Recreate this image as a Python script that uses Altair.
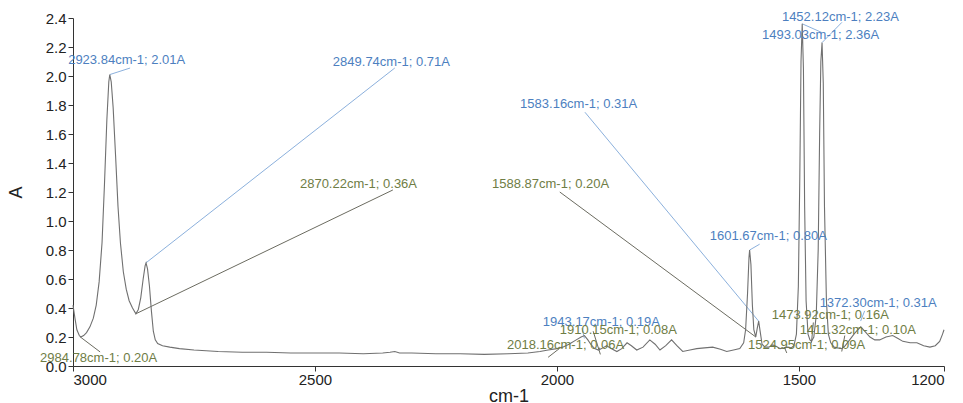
import altair as alt
import pandas as pd

# ---- spectrum (wavenumber cm-1, absorbance A) ----
spec_wn = [3000, 2996, 2992, 2987, 2984, 2978, 2972, 2965, 2958, 2952, 2946, 2940, 2935, 2930,
           2926, 2924, 2921, 2917, 2912, 2907, 2902, 2896, 2890, 2884, 2877, 2870, 2865, 2860,
           2855, 2851, 2849, 2846, 2842, 2838, 2834, 2830, 2825, 2815, 2800, 2780, 2750, 2700,
           2650, 2600, 2550, 2500, 2450, 2400, 2360, 2345, 2335, 2325, 2300, 2250, 2200, 2150,
           2100, 2060, 2035, 2018, 2000, 1988, 1975, 1960, 1950, 1943, 1936, 1930, 1922, 1914,
           1905, 1897, 1888, 1876, 1866, 1855, 1846, 1835, 1822, 1808, 1797, 1787, 1775, 1763,
           1752, 1740, 1725, 1711, 1695, 1678, 1662, 1649, 1635, 1622, 1614, 1610, 1606, 1603,
           1601.7, 1599, 1596, 1593, 1589, 1586, 1583, 1580, 1576, 1570, 1562, 1554, 1546, 1539,
           1531, 1524, 1516, 1510, 1505, 1501, 1498, 1495.5, 1493, 1490.5, 1488, 1485, 1481, 1477,
           1473.9, 1469, 1464, 1460, 1457, 1454.5, 1452, 1449.5, 1447, 1443, 1439, 1434, 1427,
           1420, 1411, 1404, 1395, 1386, 1378, 1372, 1364, 1353, 1343, 1333, 1320, 1306, 1295,
           1285, 1270, 1256, 1242, 1229, 1218, 1209, 1203, 1200]
spec_a = [0.42, 0.33, 0.25, 0.21, 0.20, 0.21, 0.23, 0.27, 0.33, 0.42, 0.58, 0.85, 1.25, 1.70,
          1.96, 2.01, 1.96, 1.78, 1.45, 1.10, 0.85, 0.65, 0.53, 0.45, 0.40, 0.36, 0.39, 0.47,
          0.60, 0.69, 0.71, 0.67, 0.55, 0.38, 0.24, 0.18, 0.155, 0.14, 0.13, 0.12, 0.11, 0.10,
          0.095, 0.095, 0.09, 0.09, 0.09, 0.085, 0.09, 0.095, 0.10, 0.09, 0.09, 0.085, 0.085, 0.08,
          0.085, 0.09, 0.10, 0.11, 0.12, 0.13, 0.15, 0.18, 0.20, 0.21, 0.18, 0.15, 0.12, 0.11,
          0.125, 0.14, 0.12, 0.10, 0.12, 0.16, 0.14, 0.11, 0.13, 0.18, 0.15, 0.11, 0.14, 0.18,
          0.14, 0.10, 0.11, 0.12, 0.125, 0.13, 0.115, 0.10, 0.11, 0.12, 0.16, 0.25, 0.50, 0.75,
          0.80, 0.70, 0.42, 0.25, 0.20, 0.26, 0.31, 0.24, 0.15, 0.13, 0.13, 0.145, 0.135, 0.12,
          0.125, 0.13, 0.125, 0.14, 0.22, 0.55, 1.30, 2.10, 2.36, 2.05, 1.10, 0.45, 0.22, 0.18,
          0.17, 0.20, 0.35, 0.80, 1.60, 2.10, 2.23, 1.95, 1.10, 0.45, 0.22, 0.16, 0.13,
          0.125, 0.12, 0.14, 0.18, 0.22, 0.25, 0.27, 0.24, 0.20, 0.18, 0.18, 0.20, 0.21, 0.19,
          0.17, 0.16, 0.16, 0.14, 0.13, 0.14, 0.17, 0.22, 0.25]

# ---- peak annotations ----
peak_wn = [2923.84, 2849.74, 2870.22, 2984.78, 1583.16, 1588.87, 1601.67, 1452.12,
           1493.03, 1372.30, 1473.92, 1411.32, 1943.17, 1910.15, 2018.16, 1524.95]
peak_a = [2.01, 0.71, 0.36, 0.20, 0.31, 0.20, 0.80, 2.23,
          2.36, 0.31, 0.16, 0.10, 0.19, 0.08, 0.06, 0.09]
peak_grp = ["blue", "blue", "olive", "olive", "blue", "olive", "blue", "blue",
            "blue", "blue", "olive", "olive", "blue", "olive", "olive", "olive"]
# label anchor (left edge of text), in data units
label_wn = [3010, 2463, 2531, 3068, 2076, 2134, 1684, 1535,
            1576, 1457, 1556, 1498, 2029, 1994, 2103, 1605]
label_a = [2.11, 2.10, 1.255, 0.055, 1.807, 1.255, 0.90, 2.41,
           2.28, 0.434, 0.35, 0.248, 0.303, 0.248, 0.145, 0.145]
# leader line end, in data units
lead_wn = [2882, 2335, 2339, 2944, 1942, 1994, 1581, 1411,
           1452.5, 1364, 1470, 1405, 1948, 1925, 1995, 1530]
lead_a = [2.055, 2.055, 1.214, 0.097, 1.75, 1.20, 0.84, 2.37,
          2.30, 0.38, 0.30, 0.21, 0.26, 0.24, 0.12, 0.13]

x_ticks = [3000, 2500, 2000, 1500, 1200]
y_ticks = [0.0, 0.2, 0.4, 0.6, 0.8, 1.0, 1.2, 1.4, 1.6, 1.8, 2.0, 2.2, 2.4]

spec = pd.DataFrame({"wn": spec_wn, "a": spec_a, "i": list(range(len(spec_wn)))})
ann = pd.DataFrame({
    "pw": peak_wn, "pa": peak_a, "grp": peak_grp,
    "lw": label_wn, "la": label_a, "ew": lead_wn, "ea": lead_a,
    "txt": [f"{w:.2f}cm-1; {a:.2f}A" for w, a in zip(peak_wn, peak_a)],
})

FONT = "Liberation Sans"
xs = alt.Scale(domain=[1200, 3000], reverse=True, nice=False, zero=False)
ys = alt.Scale(domain=[0, 2.4], nice=False)
x_axis = alt.Axis(values=x_ticks, title="cm-1", format="d", titleFontSize=18,
                  titlePadding=0, labelPadding=1, labelOverlap=False)
y_axis = alt.Axis(values=y_ticks, format=".1f", title="A", titleFontSize=18,
                  titlePadding=20, labelOverlap=False, tickCount=13)

line = alt.Chart(spec).mark_line(color="#707070", strokeWidth=1.1, clip=False).encode(
    x=alt.X("wn:Q", scale=xs, axis=x_axis),
    y=alt.Y("a:Q", scale=ys, axis=y_axis),
    order="i:Q",
)

BLUE_T, BLUE_L = "#4d7fbf", "#7ea7d8"
OLIVE_T, OLIVE_L = "#6f7d45", "#5a5a4e"

def leaders(group, color):
    return alt.Chart(ann).transform_filter(alt.datum.grp == group).mark_rule(
        color=color, strokeWidth=0.9, clip=False).encode(
        x=alt.X("pw:Q", scale=xs, axis=x_axis), y=alt.Y("pa:Q", scale=ys, axis=y_axis),
        x2="ew:Q", y2="ea:Q")

def labels(group, color):
    return alt.Chart(ann).transform_filter(alt.datum.grp == group).mark_text(
        color=color, align="left", baseline="middle", font=FONT, fontSize=13,
        clip=False).encode(
        x=alt.X("lw:Q", scale=xs, axis=x_axis), y=alt.Y("la:Q", scale=ys, axis=y_axis),
        text="txt:N")

chart = alt.layer(
    leaders("blue", BLUE_L), leaders("olive", OLIVE_L),
    line,
    labels("blue", BLUE_T), labels("olive", OLIVE_T),
).properties(
    width=871, height=348,
    autosize=alt.AutoSizeParams(type="none"),
    padding={"left": 73, "top": 18, "right": 19, "bottom": 37},
    background="white",
).configure_view(stroke=None).configure_axis(
    grid=False, domainColor="#333333", tickColor="#333333", tickSize=5,
    labelFont=FONT, labelFontSize=15, labelColor="#222222", labelPadding=2,
    titleFont=FONT, titleFontWeight="normal", titleColor="#222222",
)

chart.save("out.html", embed_options={"renderer": "svg", "actions": False})
